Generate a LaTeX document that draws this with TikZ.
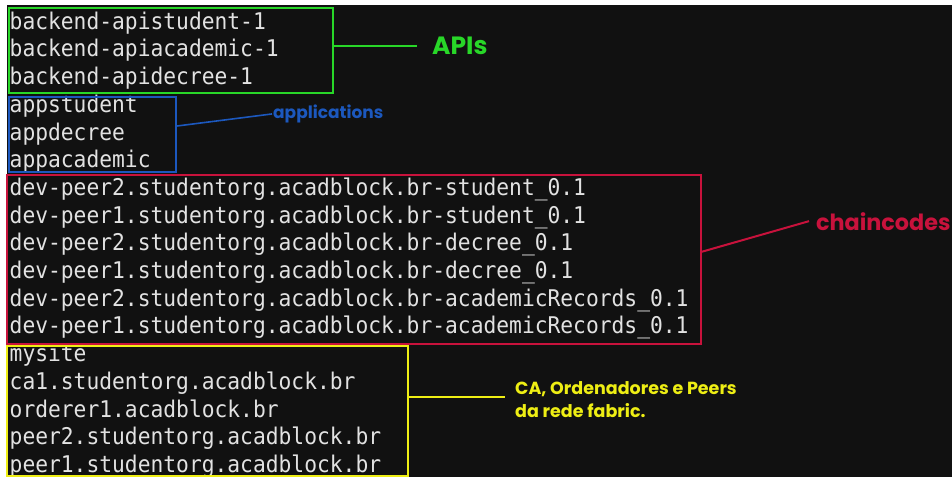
\documentclass[tikz,border=0pt]{standalone}
\usepackage{fontspec}
\usetikzlibrary{calc}
\newfontfamily\termfont[FakeStretch=0.925]{DejaVu Sans Mono}
\newfontfamily\labfont{Poppins}
\definecolor{bg}{RGB}{17,17,17}
\definecolor{termtxt}{RGB}{226,226,226}
\definecolor{grn}{RGB}{40,215,40}
\definecolor{blu}{RGB}{28,88,190}
\definecolor{crim}{RGB}{200,18,60}
\definecolor{yel}{RGB}{238,238,20}
\tikzset{
  term/.style={anchor=base west, inner sep=0pt, text=termtxt, font=\termfont\fontsize{23}{23}\selectfont},
  grpbox/.style={draw=#1, line width=2pt, anchor=north west, inner sep=0pt},
  conn/.style={draw=#1, line width=2pt},
  lab/.style={inner sep=0pt, text=#1, font=\labfont\bfseries}
}
\begin{document}
\begin{tikzpicture}[x=1pt,y=-1pt]
\useasboundingbox (0,0) rectangle (952,477);
\fill[white] (0,0) rectangle (952,477);
\fill[bg] (7,5) rectangle (952,477);
% terminal lines
\foreach \i/\t in {0/backend-apistudent-1,1/backend-apiacademic-1,2/backend-apidecree-1,
  3/appstudent,4/appdecree,5/appacademic,
  6/dev-peer2.studentorg.acadblock.br-student\_0.1,
  7/dev-peer1.studentorg.acadblock.br-student\_0.1,
  8/dev-peer2.studentorg.acadblock.br-decree\_0.1,
  9/dev-peer1.studentorg.acadblock.br-decree\_0.1,
  10/dev-peer2.studentorg.acadblock.br-academicRecords\_0.1,
  11/dev-peer1.studentorg.acadblock.br-academicRecords\_0.1,
  12/mysite,13/ca1.studentorg.acadblock.br,14/orderer1.acadblock.br,
  15/peer2.studentorg.acadblock.br,16/peer1.studentorg.acadblock.br}
  \node[term] (t\i) at (9.5,{29.2+27.7*\i}) {\t};
% group boxes
\node[grpbox=grn, minimum width=324pt, minimum height=85pt] (gbox) at (8,7.3) {};
\node[grpbox=blu, minimum width=167pt, minimum height=75pt] (bbox) at (8,95.5) {};
\node[grpbox=crim, minimum width=694pt, minimum height=169pt] (cbox) at (6,174) {};
\node[grpbox=yel, minimum width=401pt, minimum height=130pt] (ybox) at (6,345) {};
% labels
\node[lab=grn, anchor=base west, font=\labfont\bfseries\fontsize{25}{25}\selectfont] (apis) at (432,54.5) {APIs};
\node[lab=blu, anchor=base west, font=\labfont\bfseries\fontsize{17}{17}\selectfont] (appl) at (273,118.5) {applications};
\node[lab=crim, anchor=base west, font=\labfont\bfseries\fontsize{22.3}{22.3}\selectfont] (chain) at (816,230) {chaincodes};
\node[lab=yel, anchor=north west, align=left, font=\labfont\bfseries\fontsize{17.5}{23}\selectfont] (ca) at (515,381) {CA, Ordenadores e Peers\\da rede fabric.};
% connectors
\coordinate (bA) at ($(bbox.north east)+(0,30.5)$);
\coordinate (cA) at ($(cbox.north east)+(0,77.7)$);
\coordinate (yA) at ($(ybox.north east)+(0,52)$);
\draw[conn=grn] (gbox.east |- apis.west) -- ([xshift=-15pt]apis.west);
\draw[conn=blu, line width=1.6pt] (bA) -- ([xshift=-1pt]appl.west);
\draw[conn=crim] (cA) -- ([xshift=-7pt]chain.west);
\draw[conn=yel] (yA) -- ([xshift=-10pt]ca.west |- yA);
\end{tikzpicture}
\end{document}
